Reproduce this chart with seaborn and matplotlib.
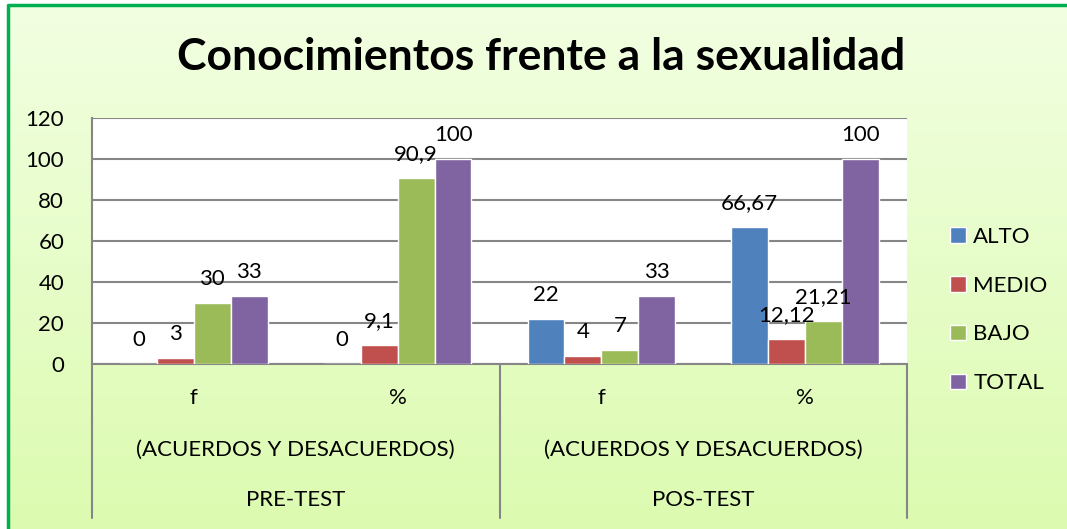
import pandas as pd
import matplotlib.pyplot as plt
import matplotlib.patches as mpatches
import matplotlib.transforms as mtransforms
import seaborn as sns
import numpy as np

categorias = ['PRE f', 'PRE %', 'POS f', 'POS %']
etiquetas_x = ['f', '%', 'f', '%']
grupos = ['PRE-TEST', 'POS-TEST']
subtitulo = '(ACUERDOS Y DESACUERDOS)'
niveles = ['ALTO', 'MEDIO', 'BAJO', 'TOTAL']
alto = [0, 0, 22, 66.67]
medio = [3, 9.1, 4, 12.12]
bajo = [30, 90.9, 7, 21.21]
total = [33, 100, 33, 100]
colores = ['#4f81bd', '#c0504d', '#9bbb59', '#8064a2']

df = pd.DataFrame({'categoria': categorias * 4,
                   'nivel': np.repeat(niveles, 4),
                   'valor': alto + medio + bajo + total})

sns.set_theme(style='white')
plt.rcParams['font.family'] = ['Lato', 'DejaVu Sans']
plt.rcParams['text.color'] = 'black'

fig = plt.figure(figsize=(10.67, 5.29), dpi=100)

# fondo degradado
bg = fig.add_axes([0, 0, 1, 1], zorder=-10)
grad = np.linspace(0, 1, 256).reshape(-1, 1)
top = np.array([0xf2, 0xff, 0xe2]) / 255
bot = np.array([0xdc, 0xfb, 0xb0]) / 255
img = top * (1 - grad[..., None]) + bot * grad[..., None]
img = np.repeat(img, 2, axis=1)
bg.imshow(img, aspect='auto', extent=[0, 1, 0, 1])
bg.add_patch(mpatches.Rectangle((0, 0.99), 1, 0.02, color='white', transform=bg.transAxes))
bg.add_patch(mpatches.Rectangle((0, 0), 8/1067, 1, color='white', transform=bg.transAxes))
bg.plot([8/1067, 8/1067, 1.01], [-0.01, 1 - 5/529, 1 - 5/529], color='#00b050', lw=2.5,
        transform=bg.transAxes, clip_on=False)
bg.set_xlim(0, 1); bg.set_ylim(0, 1)
bg.axis('off')

ax = fig.add_axes([92/1067, 1 - 364/529, (907-92)/1067, (364-118)/529])
ax.set_facecolor('white')
sns.barplot(data=df, x='categoria', y='valor', hue='nivel', order=categorias,
            hue_order=niveles, palette=colores, width=0.725, gap=0, saturation=1,
            ax=ax, zorder=3, legend=True)

for cont in ax.containers:
    etiquetas = [f'{v:g}'.replace('.', ',') for v in cont.datavalues]
    ax.bar_label(cont, labels=etiquetas, padding=10, fontsize=16, color='black')

ax.set_ylim(0, 120)
ax.set_yticks(range(0, 121, 20))
ax.yaxis.grid(True, color='#868686', lw=1.5, zorder=0)
ax.set_axisbelow(True)
ax.tick_params(axis='y', labelsize=16, pad=20, length=0, labelcolor='black')
ax.set_xticks([])
ax.set_xlabel('')
ax.set_ylabel('')
for s in ['top', 'right', 'bottom']:
    ax.spines[s].set_visible(False)
ax.spines['left'].set_color('#868686')
ax.spines['left'].set_linewidth(1.5)

# tabla de categorias bajo el eje
trans = mtransforms.blended_transform_factory(ax.transData, ax.transAxes)
for i, lab in enumerate(etiquetas_x):
    ax.text(i, -0.138, lab, transform=trans, ha='center', va='center', fontsize=16)
for g, nombre in enumerate(grupos):
    xc = 2 * g + 0.5
    ax.text(xc, -0.35, subtitulo, transform=trans, ha='center', va='center', fontsize=16)
    ax.text(xc, -0.553, nombre, transform=trans, ha='center', va='center', fontsize=16)
ax.plot([-0.5, 3.5], [0, 0], transform=trans, color='#868686', lw=1.5, clip_on=False)
for xv in [-0.5, 1.5, 3.5]:
    ax.plot([xv, xv], [0, -0.626], transform=trans, color='#868686', lw=1.5, clip_on=False)
ax.set_xlim(-0.5, 3.5)

h, l = ax.get_legend_handles_labels()
ax.get_legend().remove()
fig.legend(h, l, loc='center left', bbox_to_anchor=(930/1067, 1 - 310/529), frameon=False,
           fontsize=16, handlelength=0.7, handleheight=0.7, handletextpad=0.35,
           labelspacing=1.3)

fig.text(541/1067, 1 - 57/529, 'Conocimientos frente a la sexualidad', ha='center', va='center',
         fontsize=32, fontweight='bold', color='black')

plt.savefig('out.png', dpi=100)
plt.close()
